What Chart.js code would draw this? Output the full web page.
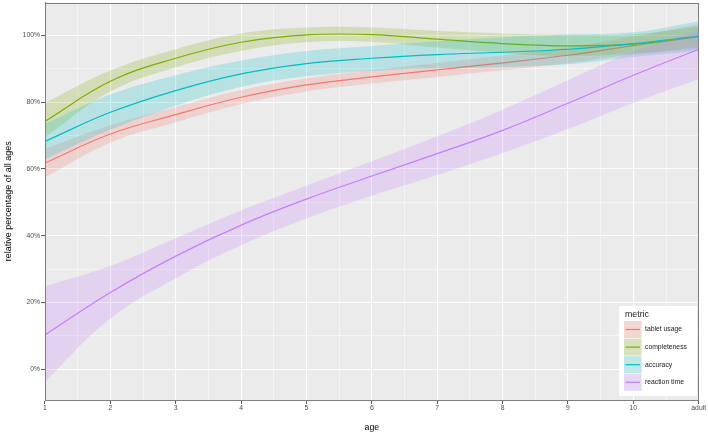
<!DOCTYPE html>
<html><head><meta charset="utf-8">
<script src="https://cdn.jsdelivr.net/npm/chart.js@4.4.1/dist/chart.umd.min.js"></script>
<style>html,body{margin:0;padding:0;background:#fff;}#wrap{width:708px;height:437px;position:relative;}</style>
</head><body><div id="wrap"><canvas id="c" width="708" height="437"></canvas></div>
<script>
// ---- data ----
const ages = [1, 2, 3, 4, 5, 6, 7, 8, 9, 10, 11];
const xTickLabels = ['1', '2', '3', '4', '5', '6', '7', '8', '9', '10', 'adult'];
const yTickValues = [0, 20, 40, 60, 80, 100];
const metrics = ['tablet usage', 'completeness', 'accuracy', 'reaction time'];

const tabletUsage      = [61.8, 70.5, 76.3, 81.5, 85.2, 87.6, 89.7, 91.8, 94.1, 97.0, 99.8];
const tabletUsageLow   = [57.5, 67.9, 74.0, 79.4, 83.2, 85.6, 87.6, 89.6, 91.7, 94.3, 96.0];
const tabletUsageHigh  = [66.0, 73.1, 78.6, 83.6, 87.2, 89.6, 91.8, 94.0, 96.5, 99.7, 103.4];

const completeness     = [74.3, 86.3, 93.2, 98.0, 100.2, 100.3, 98.9, 97.6, 96.9, 97.4, 99.6];
const completenessLow  = [69.5, 83.2, 90.5, 95.4, 98.0, 98.1, 96.4, 94.8, 93.9, 94.6, 96.6];
const completenessHigh = [79.8, 89.5, 95.9, 100.6, 102.4, 102.4, 101.4, 100.6, 100.2, 100.4, 102.6];

const accuracy         = [68.3, 77.0, 83.5, 88.5, 91.6, 93.2, 94.3, 95.0, 95.9, 97.6, 99.8];
const accuracyLow      = [63.0, 71.8, 79.0, 84.6, 87.8, 89.4, 90.2, 90.6, 91.4, 93.6, 95.4];
const accuracyHigh     = [73.5, 82.3, 88.1, 92.5, 95.4, 96.9, 98.3, 99.5, 100.3, 101.0, 104.2];

const reactionTime     = [10.3, 23.0, 33.9, 43.2, 51.0, 57.9, 64.6, 71.6, 79.7, 88.1, 95.9];
const reactionTimeLow  = [-3.7, 15.2, 27.3, 37.2, 45.2, 52.0, 58.2, 64.8, 72.0, 79.8, 87.0];
const reactionTimeHigh = [24.8, 31.0, 39.3, 47.6, 55.0, 62.3, 69.8, 77.8, 86.6, 95.2, 101.6];

// ---- styling ----
const colors = ['#F8766D', '#7CAE00', '#00BFC4', '#C77CFF'];
const bandAlpha = 0.22;
const FONT = "'Liberation Sans', Arial, sans-serif";

function rgba(hex, a) {
  const n = parseInt(hex.slice(1), 16);
  return `rgba(${(n >> 16) & 255},${(n >> 8) & 255},${n & 255},${a})`;
}
const pts = arr => ages.map((a, i) => ({ x: a, y: arr[i] }));

const series = [
  [tabletUsage, tabletUsageLow, tabletUsageHigh],
  [completeness, completenessLow, completenessHigh],
  [accuracy, accuracyLow, accuracyHigh],
  [reactionTime, reactionTimeLow, reactionTimeHigh]
];

const datasets = [];
series.forEach((s, g) => {
  const base = 100 - g * 3;
  datasets.push({ label: metrics[g] + ' upper', data: pts(s[2]), borderWidth: 0, pointRadius: 0,
    backgroundColor: rgba(colors[g], bandAlpha), fill: '+1', tension: 0.4, order: base });
  datasets.push({ label: metrics[g] + ' lower', data: pts(s[1]), borderWidth: 0, pointRadius: 0,
    fill: false, tension: 0.4, order: base - 1 });
  datasets.push({ label: metrics[g], data: pts(s[0]), borderColor: colors[g], borderWidth: 1.2, pointRadius: 0,
    fill: false, tension: 0.4, order: base - 2 });
});

const minorX = ages.flatMap(a => a < ages[ages.length - 1] ? [a, a + 0.5] : [a]);
const minorY = [];
for (let v = 0; v <= 100; v += 10) minorY.push(v);

const panelPlugin = {
  id: 'panel',
  beforeDraw(chart) {
    const { ctx, chartArea: a } = chart;
    ctx.save();
    ctx.fillStyle = '#EBEBEB';
    ctx.fillRect(a.left, a.top, a.right - a.left, a.bottom - a.top);
    ctx.restore();
  },
  afterDraw(chart) {
    const { ctx, chartArea: a } = chart;
    ctx.save();
    ctx.strokeStyle = '#7f7f7f';
    ctx.lineWidth = 1;
    ctx.strokeRect(Math.round(a.left) + 0.5, Math.round(a.top) + 0.5,
      Math.round(a.right - a.left) - 1, Math.round(a.bottom - a.top) - 1);
    // legend
    const lx = 619, ly = 306, lw = 78, lh = 90;
    ctx.fillStyle = '#ffffff';
    ctx.fillRect(lx, ly, lw, lh);
    ctx.fillStyle = '#1a1a1a';
    ctx.font = `8.8px ${FONT}`;
    ctx.textBaseline = 'middle';
    ctx.textAlign = 'left';
    ctx.fillText('metric', 625, 314.5);
    metrics.forEach((m, i) => {
      const cy = 329.5 + i * 17.6;
      const kx = 624, kw = 17.5, kh = 17;
      ctx.fillStyle = '#F2F2F2';
      ctx.fillRect(kx, cy - kh / 2, kw, kh);
      ctx.fillStyle = rgba(colors[i], bandAlpha);
      ctx.fillRect(kx, cy - kh / 2, kw, kh);
      ctx.strokeStyle = colors[i];
      ctx.lineWidth = 1.2;
      ctx.beginPath();
      ctx.moveTo(kx + 1.5, cy);
      ctx.lineTo(kx + kw - 1.5, cy);
      ctx.stroke();
      ctx.fillStyle = '#1a1a1a';
      ctx.font = `6.8px ${FONT}`;
      ctx.fillText(m, 645, cy);
    });
    ctx.restore();
  }
};

new Chart(document.getElementById('c'), {
  type: 'line',
  data: { datasets },
  plugins: [panelPlugin],
  options: {
    responsive: false,
    animation: false,
    devicePixelRatio: 1,
    layout: { padding: { top: 2.5, right: 9.3, bottom: 0, left: 0 } },
    plugins: { legend: { display: false }, tooltip: { enabled: false } },
    scales: {
      x: {
        type: 'linear', min: 1, max: 11,
        afterBuildTicks: s => { s.ticks = minorX.map(v => ({ value: v })); },
        afterFit: s => { s.height = 37; s.paddingLeft = 0; s.paddingRight = 0; },
        ticks: {
          autoSkip: false, maxRotation: 0, padding: 0, color: '#4d4d4d',
          font: { family: FONT, size: 6.8 },
          callback: v => Number.isInteger(v) ? xTickLabels[v - 1] : ''
        },
        grid: {
          color: '#ffffff',
          lineWidth: c => (c.tick && Number.isInteger(c.tick.value)) ? 1.1 : 0.5,
          tickColor: c => (c.tick && Number.isInteger(c.tick.value)) ? '#555555' : 'rgba(0,0,0,0)',
          tickLength: 4, tickWidth: 1
        },
        border: { display: true, color: '#7f7f7f', width: 1 },
        title: { display: true, text: 'age', color: '#000', font: { family: FONT, size: 8.8 }, padding: { top: 2, bottom: 3.7 } }
      },
      y: {
        type: 'linear', min: -9.2, max: 109.9,
        afterBuildTicks: s => { s.ticks = minorY.map(v => ({ value: v })); },
        afterFit: s => { s.width = 45; s.paddingTop = 0; s.paddingBottom = 0; },
        ticks: {
          autoSkip: false, padding: 1, color: '#4d4d4d',
          font: { family: FONT, size: 6.8 },
          callback: v => yTickValues.includes(v) ? v + '%' : ''
        },
        grid: {
          color: '#ffffff',
          lineWidth: c => (c.tick && yTickValues.includes(c.tick.value)) ? 1.1 : 0.5,
          tickColor: c => (c.tick && yTickValues.includes(c.tick.value)) ? '#555555' : 'rgba(0,0,0,0)',
          tickLength: 4, tickWidth: 1
        },
        border: { display: true, color: '#7f7f7f', width: 1 },
        title: { display: true, text: 'relative percentage of all ages', color: '#000', font: { family: FONT, size: 9 }, padding: { top: 3, bottom: 2 } }
      }
    }
  }
});
</script></body></html>
